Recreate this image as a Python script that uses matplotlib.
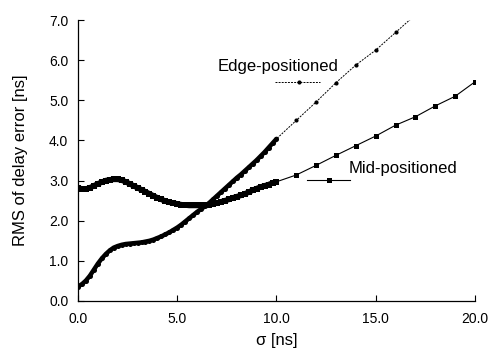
import matplotlib
matplotlib.use("Agg")
import matplotlib.pyplot as plt
import numpy as np

plt.rcParams['font.family'] = ['Liberation Sans', 'DejaVu Sans']

# Dense section (0..10, step 0.2)
sigma_dense = [round(0.2 * i, 1) for i in range(51)]
edge_dense = [0.36, 0.42, 0.51, 0.63, 0.78, 0.93, 1.06, 1.17, 1.26, 1.33,
              1.37, 1.40, 1.42, 1.43, 1.44, 1.45, 1.46, 1.48, 1.50, 1.53,
              1.57, 1.61, 1.66, 1.71, 1.77, 1.83, 1.90, 1.98, 2.06, 2.14,
              2.22, 2.29, 2.36, 2.44, 2.53, 2.62, 2.71, 2.80, 2.89, 2.98,
              3.07, 3.15, 3.24, 3.33, 3.42, 3.51, 3.61, 3.71, 3.82, 3.93,
              4.04]
mid_dense = [2.82, 2.79, 2.79, 2.82, 2.87, 2.92, 2.96, 3.00, 3.02, 3.03,
             3.03, 3.01, 2.97, 2.92, 2.87, 2.82, 2.77, 2.72, 2.67, 2.62,
             2.57, 2.53, 2.49, 2.46, 2.44, 2.42, 2.40, 2.39, 2.38, 2.38,
             2.38, 2.38, 2.39, 2.40, 2.42, 2.44, 2.47, 2.50, 2.53, 2.57,
             2.60, 2.63, 2.67, 2.71, 2.76, 2.80, 2.84, 2.87, 2.90, 2.94,
             2.97]

# Sparse section
sigma_edge_sparse = [11, 12, 13, 14, 15, 16, 17]
edge_sparse = [4.50, 4.96, 5.44, 5.88, 6.25, 6.69, 7.13]
sigma_mid_sparse = [11, 12, 13, 14, 15, 16, 17, 18, 19, 20]
mid_sparse = [3.14, 3.38, 3.63, 3.87, 4.11, 4.38, 4.59, 4.86, 5.10, 5.46]

x_ticks = [0, 5, 10, 15, 20]
x_tick_labels = ["0.0", "5.0", "10.0", "15.0", "20.0"]
y_ticks = [0, 1, 2, 3, 4, 5, 6, 7]
y_tick_labels = ["0.0", "1.0", "2.0", "3.0", "4.0", "5.0", "6.0", "7.0"]

fig = plt.figure(figsize=(4.89, 3.5), dpi=100)
ax = fig.add_axes([78 / 489, 49 / 350, 397 / 489, 281 / 350])

sig_edge = sigma_dense + sigma_edge_sparse
val_edge = edge_dense + edge_sparse
sig_mid = sigma_dense + sigma_mid_sparse
val_mid = mid_dense + mid_sparse

# Edge-positioned
ax.plot(sig_edge, val_edge, color='black', linestyle=(0, (2, 1.2)), linewidth=0.7)
ax.plot(sigma_dense, edge_dense, color='black', linestyle='-', linewidth=3.2,
        solid_capstyle='round', marker='o', markersize=3.6, markeredgewidth=0)
ax.plot(sigma_edge_sparse, edge_sparse, linestyle='none', marker='o', markersize=3.0,
        color='black', markeredgewidth=0)

# Mid-positioned
ax.plot(sig_mid, val_mid, color='black', linestyle='-', linewidth=0.8)
ax.plot(sigma_dense, mid_dense, color='black', linestyle='-', linewidth=4.0,
        solid_capstyle='butt', marker='s', markersize=4.4, markeredgewidth=0)
ax.plot(sigma_mid_sparse, mid_sparse, linestyle='none', marker='s', markersize=3.6,
        color='black', markeredgewidth=0)

ax.set_xlim(0, 20)
ax.set_ylim(0, 7)
ax.set_xticks(x_ticks)
ax.set_xticklabels(x_tick_labels)
ax.set_yticks(y_ticks)
ax.set_yticklabels(y_tick_labels)
ax.tick_params(direction='in', length=4, width=0.8, labelsize=10, colors='black')
ax.tick_params(axis='x', pad=8)
ax.tick_params(axis='y', pad=7)
for s in ['top', 'right']:
    ax.spines[s].set_visible(False)
for s in ['left', 'bottom']:
    ax.spines[s].set_linewidth(0.9)

ax.set_xlabel("σ [ns]", fontsize=12, labelpad=5)
ax.set_ylabel("RMS of delay error [ns]", fontsize=12, labelpad=15)

# Legend-like labels
ax.text(0.504, 0.833, "Edge-positioned", transform=ax.transAxes, fontsize=12,
        ha='center', va='center')
ax.plot([0.496, 0.610], [0.779, 0.779], transform=ax.transAxes, color='black',
        linestyle=(0, (2, 1.2)), linewidth=0.7, clip_on=False)
ax.plot([0.556], [0.779], transform=ax.transAxes, color='black', marker='o',
        markersize=3.0, markeredgewidth=0, clip_on=False)

ax.text(0.819, 0.473, "Mid-positioned", transform=ax.transAxes, fontsize=12,
        ha='center', va='center')
ax.plot([0.577, 0.685], [0.431, 0.431], transform=ax.transAxes, color='black',
        linestyle='-', linewidth=0.8, clip_on=False)
ax.plot([0.632], [0.431], transform=ax.transAxes, color='black', marker='s',
        markersize=3.6, markeredgewidth=0, clip_on=False)

fig.savefig("out.png", dpi=100)
